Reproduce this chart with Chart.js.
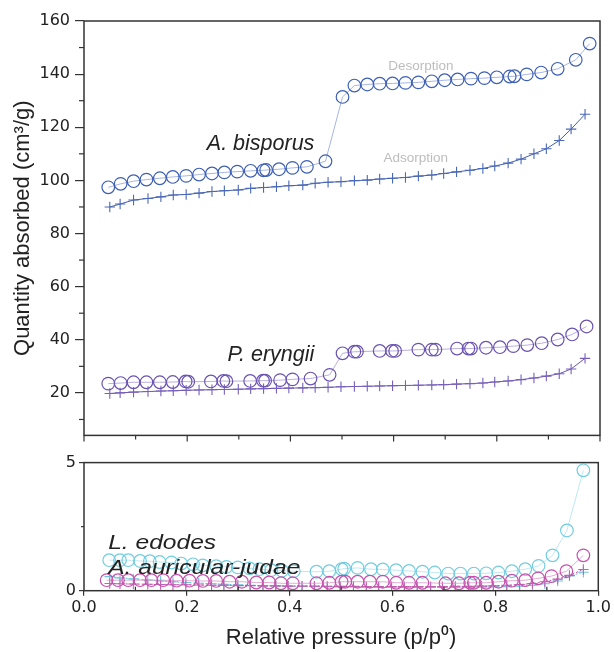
<!DOCTYPE html>
<html>
<head>
<meta charset="utf-8">
<script src="https://cdn.jsdelivr.net/npm/chart.js@4.4.1/dist/chart.umd.min.js"></script>
<style>
  html,body{margin:0;padding:0;background:#fff;}
  #wrap{position:relative;width:614px;height:652px;}
  #topCanvas{position:absolute;left:0;top:0;}
  #botCanvas{position:absolute;left:0;top:450px;}
</style>
</head>
<body>
<div id="wrap">
  <canvas id="topCanvas" width="614" height="450"></canvas>
  <canvas id="botCanvas" width="614" height="202"></canvas>
</div>
<script>
// ================= DATA =================
// relative pressure of the adsorption points (shared by every adsorption branch)
const adsX = [0.050,0.070,0.096,0.124,0.149,0.173,0.198,0.223,0.248,0.272,
              0.299,0.323,0.348,0.373,0.397,0.424,0.448,0.473,0.498,0.524,
              0.549,0.573,0.598,0.623,0.648,0.674,0.697,0.722,0.748,0.773,
              0.796,0.822,0.847,0.872,0.896,0.921,0.944,0.971];

// A. bisporus
const bisporusAds = [90.0,91.1,92.6,93.2,93.8,94.5,94.7,95.2,95.8,96.1,
                     96.4,97.0,97.3,97.6,98.0,98.2,98.9,99.3,99.5,99.9,
                     100.1,100.5,100.8,101.1,101.6,102.0,102.6,103.2,103.8,104.5,
                     105.4,106.5,108.0,110.0,111.9,115.0,119.3,124.9];
const bisporusDesX = [0.047,0.071,0.096,0.121,0.147,0.172,0.198,0.223,0.248,0.272,
                      0.297,0.323,0.348,0.353,0.378,0.404,0.432,0.468,0.501,0.524,
                      0.549,0.573,0.598,0.623,0.648,0.674,0.699,0.724,0.750,0.776,
                      0.800,0.825,0.834,0.858,0.886,0.918,0.953,0.980];
const bisporusDes = [97.4,98.7,99.7,100.3,100.8,101.3,101.7,102.2,102.6,103.0,
                     103.3,103.6,103.8,103.9,104.2,104.7,105.1,107.2,131.4,135.7,
                     136.1,136.4,136.5,136.7,136.9,137.3,137.7,138.0,138.3,138.5,
                     138.8,139.1,139.2,139.9,140.6,142.0,145.4,151.5];

// P. eryngii
const eryngiiAds = [19.8,20.0,20.3,20.5,20.7,20.8,21.0,21.1,21.2,21.3,
                    21.4,21.5,21.6,21.7,21.8,21.9,22.0,22.1,22.3,22.4,
                    22.5,22.6,22.7,22.8,22.9,23.0,23.1,23.3,23.5,23.7,
                    24.1,24.5,25.0,25.6,26.3,27.2,29.0,33.0];
const eryngiiDesX = [0.047,0.071,0.096,0.121,0.147,0.172,0.197,0.202,0.246,0.270,
                     0.276,0.322,0.347,0.351,0.380,0.404,0.439,0.476,0.501,0.524,
                     0.529,0.573,0.597,0.603,0.648,0.674,0.681,0.723,0.745,0.750,
                     0.779,0.806,0.832,0.859,0.887,0.918,0.946,0.974];
const eryngiiDes = [23.5,23.7,24.0,24.0,24.0,24.1,24.3,24.2,24.3,24.5,
                    24.4,24.5,24.6,24.6,24.8,25.1,25.4,26.8,34.9,35.5,
                    35.5,35.8,35.8,35.8,36.3,36.3,36.3,36.7,36.7,36.7,
                    37.0,37.2,37.6,38.0,38.7,40.1,42.0,45.0];

// L. edodes
const edodesAds = [0.55,0.50,0.46,0.42,0.38,0.35,0.32,0.29,0.27,0.25,
                   0.23,0.21,0.20,0.19,0.18,0.17,0.16,0.16,0.15,0.15,
                   0.14,0.14,0.14,0.13,0.13,0.13,0.13,0.13,0.13,0.14,
                   0.15,0.16,0.18,0.21,0.27,0.38,0.58,0.72];
const edodesDesX = [0.049,0.070,0.086,0.109,0.128,0.147,0.170,0.189,0.212,0.231,
                    0.257,0.277,0.299,0.322,0.341,0.364,0.385,0.408,0.452,0.477,
                    0.501,0.506,0.532,0.558,0.581,0.607,0.632,0.658,0.682,0.708,
                    0.732,0.758,0.782,0.806,0.832,0.858,0.884,0.911,0.939,0.971];
const edodesDes = [1.19,1.19,1.19,1.16,1.15,1.12,1.10,1.06,1.03,0.99,
                   0.96,0.93,0.91,0.87,0.84,0.80,0.78,0.76,0.74,0.76,
                   0.84,0.86,0.89,0.84,0.83,0.80,0.77,0.74,0.71,0.67,
                   0.67,0.67,0.68,0.71,0.76,0.84,0.97,1.38,2.35,4.70];

// A. auricular-judae
const ajAds = [0.28,0.27,0.26,0.25,0.24,0.23,0.23,0.22,0.21,0.21,
               0.20,0.20,0.19,0.19,0.18,0.18,0.18,0.17,0.17,0.17,
               0.16,0.16,0.16,0.16,0.16,0.16,0.16,0.17,0.17,0.18,
               0.19,0.21,0.24,0.28,0.35,0.45,0.60,0.83];
const ajDesX = [0.044,0.066,0.086,0.109,0.131,0.154,0.180,0.205,0.231,0.257,
                0.283,0.307,0.335,0.360,0.383,0.406,0.452,0.477,0.501,0.508,
                0.532,0.556,0.581,0.607,0.632,0.658,0.703,0.729,0.751,0.758,
                0.782,0.806,0.832,0.858,0.883,0.909,0.938,0.971];
const ajDes = [0.41,0.41,0.41,0.41,0.41,0.41,0.39,0.39,0.38,0.38,
               0.35,0.35,0.32,0.32,0.29,0.29,0.29,0.31,0.35,0.35,
               0.35,0.35,0.35,0.31,0.31,0.31,0.29,0.29,0.31,0.31,
               0.31,0.35,0.39,0.41,0.48,0.57,0.76,1.38];

// ticks
const xMajor = [0, 0.2, 0.4, 0.6, 0.8, 1.0];
const xMinor = [0.1, 0.3, 0.5, 0.7, 0.9];
const topYTicks = [20, 40, 60, 80, 100, 120, 140, 160];
const topYMinor = [10, 30, 50, 70, 90, 110, 130, 150];
const botYTicks = [0, 5];
const botYMinor = [2.5];

// ================= STYLE =================
const AXIS = "#333";
const TXT = "#222";
const TICK_FONT = {family: "DejaVu Sans", size: 16};
const pts = (xs, ys) => xs.map((x, i) => ({x, y: ys[i]}));

function circles(data, mark, line){
  return {data, showLine:true, borderColor:line, borderWidth:0.8,
    pointStyle:"circle", pointRadius:6.3, pointBorderColor:mark, pointBorderWidth:1.2,
    pointBackgroundColor:"rgba(0,0,0,0)", backgroundColor:"rgba(0,0,0,0)"};
}
function crosses(data, mark, line, dash){
  return {data, showLine:true, borderColor:line, borderWidth:0.9, borderDash:dash || [],
    pointStyle:"cross", pointRadius:5.2, pointBorderColor:mark, pointBorderWidth:1.1,
    pointBackgroundColor:mark, backgroundColor:"rgba(0,0,0,0)"};
}

// ================= PLUGINS =================
// box round the plot plus the minor ticks that chart.js does not draw
const framePlugin = {
  id: "frame",
  afterDraw(chart, args, opts){
    const {ctx, chartArea:a, scales} = chart;
    ctx.save();
    ctx.strokeStyle = AXIS;
    ctx.lineWidth = 1.5;
    ctx.strokeRect(a.left, a.top, a.right - a.left, a.bottom - a.top);
    ctx.lineWidth = 1.2;
    const seg = (x1,y1,x2,y2) => { ctx.beginPath(); ctx.moveTo(x1,y1); ctx.lineTo(x2,y2); ctx.stroke(); };
    (opts.yMinor || []).forEach(v => {
      const y = scales.y.getPixelForValue(v);
      seg(a.left - opts.yMinorLen, y, a.left, y);
    });
    (opts.xTicks || []).forEach(t => {
      t.values.forEach(v => {
        const x = scales.x.getPixelForValue(v);
        seg(x, a.bottom, x, a.bottom + t.len);
      });
    });
    ctx.restore();
  }
};

// species names and branch names, anchored in data units
const labelPlugin = {
  id: "labels",
  afterDatasetsDraw(chart, args, opts){
    const {ctx, scales} = chart;
    (opts.items || []).forEach(l => {
      const x = scales.x.getPixelForValue(l.x);
      const y = scales.y.getPixelForValue(l.y);
      ctx.save();
      ctx.font = l.font;
      ctx.fillStyle = l.color;
      ctx.textAlign = l.align;
      ctx.textBaseline = l.baseline;
      ctx.translate(x, y);
      ctx.scale(l.stretch || 1, 1);
      ctx.fillText(l.text, 0, 0);
      ctx.restore();
    });
  }
};

// ================= TOP PANEL =================
new Chart(document.getElementById("topCanvas"), {
  type: "scatter",
  data: {datasets: [
    circles(pts(bisporusDesX, bisporusDes), "#3d5fb5", "#8ea3da"),
    crosses(pts(adsX, bisporusAds), "#4a68b8", "#2f4c9f"),
    circles(pts(eryngiiDesX, eryngiiDes), "#6a52b2", "#a899d6"),
    crosses(pts(adsX, eryngiiAds), "#7660ba", "#5a40a6")
  ]},
  options: {
    responsive:false, animation:false, devicePixelRatio:1,
    layout: {padding: {top:21, right:14, bottom:11, left:0}},
    plugins: {
      legend:{display:false}, tooltip:{enabled:false},
      frame: {yMinor: topYMinor, yMinorLen: 5,
              xTicks: [{values:xMajor, len:6}, {values:xMinor, len:4}]},
      labels: {items: [
        {text:"A. bisporus", x:0.238, y:111.3, font:"italic 21.5px 'Liberation Sans'", color:TXT, align:"left", baseline:"alphabetic"},
        {text:"Desorption", x:0.653, y:143.1, font:"13.5px 'Liberation Sans'", color:"#bdbdbd", align:"center", baseline:"middle"},
        {text:"Adsorption", x:0.643, y:108.4, font:"13.5px 'Liberation Sans'", color:"#bdbdbd", align:"center", baseline:"middle"},
        {text:"P. eryngii", x:0.278, y:32.1, font:"italic 21.5px 'Liberation Sans'", color:TXT, align:"left", baseline:"alphabetic"}
      ]}
    },
    scales: {
      x: {type:"linear", min:0, max:1, display:false},
      y: {type:"linear", min:4, max:160,
        afterFit: s => { s.width = 84; },
        afterBuildTicks: s => { s.ticks = topYTicks.map(v => ({value:v})); },
        border: {display:false},
        grid: {drawOnChartArea:false, drawTicks:true, tickLength:9, color:AXIS, lineWidth:1.2},
        ticks: {font:TICK_FONT, color:TXT, padding:5},
        title: {display:true, text:"Quantity absorbed (cm³/g)", color:TXT,
                font:{family:"Liberation Sans", size:22}, padding:{top:10, bottom:0}}
      }
    }
  },
  plugins: [framePlugin, labelPlugin]
});

// ================= BOTTOM PANEL =================
new Chart(document.getElementById("botCanvas"), {
  type: "scatter",
  data: {datasets: [
    circles(pts(ajDesX, ajDes), "#c652ad", "#dc95cb"),
    crosses(pts(adsX, ajAds), "#c460b2", "#b03c98", [2,2]),
    circles(pts(edodesDesX, edodesDes), "#72cde0", "#aee2ee"),
    crosses(pts(adsX, edodesAds), "#6cc6dc", "#4fb8d2", [2,2])
  ]},
  options: {
    responsive:false, animation:false, devicePixelRatio:1,
    layout: {padding: {top:11.5, right:14, bottom:0, left:0}},
    plugins: {
      legend:{display:false}, tooltip:{enabled:false},
      frame: {yMinor: botYMinor, yMinorLen: 3,
              xTicks: [{values:xMinor, len:-4}]},
      labels: {items: [
        {text:"L. edodes", x:0.047, y:1.64, font:"italic 21px 'Liberation Sans'", color:TXT, align:"left", baseline:"alphabetic", stretch:1.17},
        {text:"A. auricular-judae", x:0.047, y:0.67, font:"italic 21px 'Liberation Sans'", color:TXT, align:"left", baseline:"alphabetic", stretch:1.17}
      ]}
    },
    scales: {
      x: {type:"linear", min:0, max:1,
        afterFit: s => { s.height = 61.3; },
        afterBuildTicks: s => { s.ticks = xMajor.map(v => ({value:v})); },
        border: {display:false},
        grid: {drawOnChartArea:false, drawTicks:true, tickLength:5, color:AXIS, lineWidth:1.2},
        ticks: {font:TICK_FONT, color:TXT, padding:3, maxRotation:0, callback: v => v.toFixed(1)},
        title: {display:true, text:"Relative pressure (p/p⁰)", color:TXT,
                font:{family:"Liberation Sans", size:22}, padding:{top:0, bottom:1}}
      },
      y: {type:"linear", min:0, max:5,
        afterFit: s => { s.width = 84; },
        afterBuildTicks: s => { s.ticks = botYTicks.map(v => ({value:v})); },
        border: {display:false},
        grid: {drawOnChartArea:false, drawTicks:true, tickLength:5, color:AXIS, lineWidth:1.2},
        ticks: {font:TICK_FONT, color:TXT, padding:3}
      }
    }
  },
  plugins: [framePlugin, labelPlugin]
});
</script>
</body>
</html>
